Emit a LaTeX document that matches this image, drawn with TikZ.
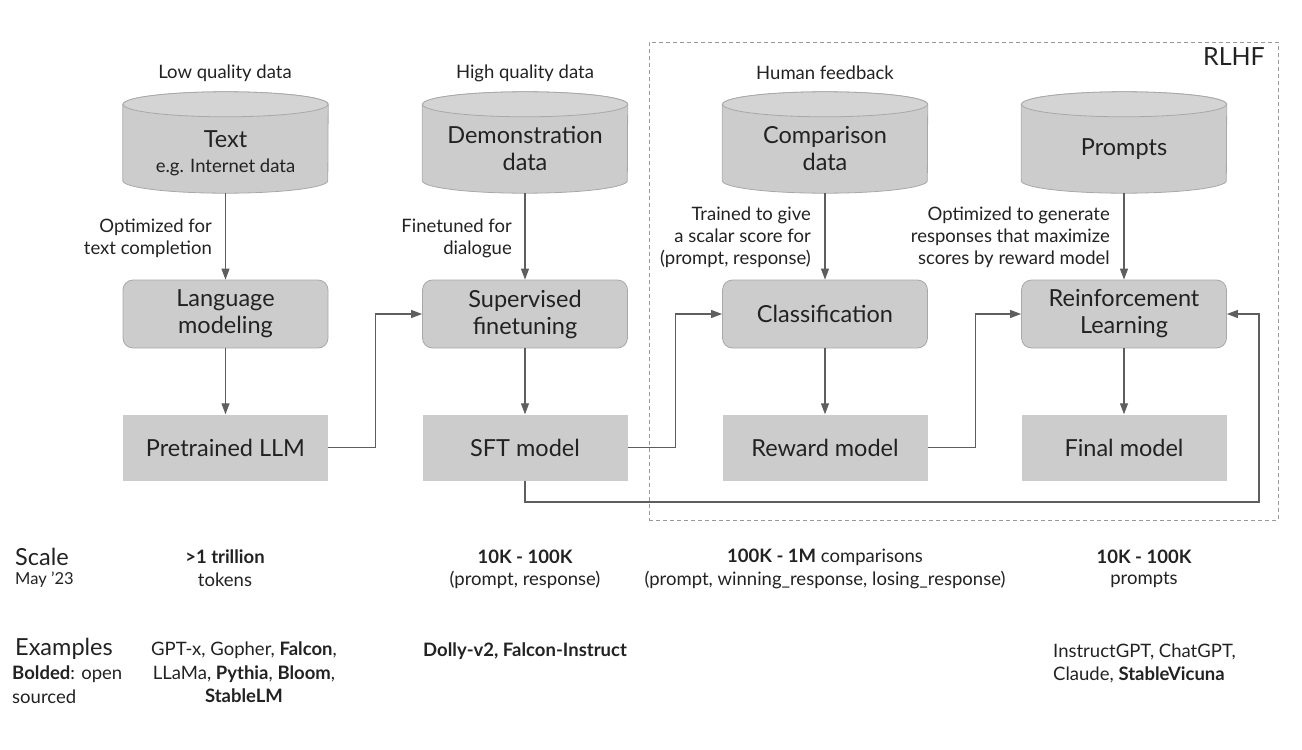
\documentclass[tikz,border=0pt]{standalone}
\usepackage{fontspec}
\setmainfont{Lato}
\usetikzlibrary{arrows.meta,backgrounds}
\definecolor{boxfill}{HTML}{CCCCCC}
\definecolor{boxtop}{HTML}{D4D4D4}
\definecolor{boxline}{HTML}{A8A8A8}
\definecolor{conncol}{HTML}{5E5E5E}
\definecolor{txt}{HTML}{222222}
\definecolor{dashcol}{HTML}{9A9A9A}
\tikzset{
  proc/.style={draw=boxline, fill=boxfill, rounded corners=10pt, minimum width=205pt,
    minimum height=68pt, align=center, font=\fontsize{23.5}{27}\selectfont, text=txt,
    line width=0.8pt, inner sep=0pt},
  model/.style={fill=boxfill, minimum width=205pt, minimum height=66pt,
    font=\fontsize{23.5}{27}\selectfont, text=txt, inner sep=0pt},
  db/.style={minimum width=205pt, minimum height=88.5pt, align=center, inner sep=0pt, text=txt,
    font=\fontsize{23.5}{27}\selectfont},
  lab/.style={font=\fontsize{18.5}{22}\selectfont, text=txt, align=right, inner sep=0pt},
  toplab/.style={font=\fontsize{18.5}{22}\selectfont, text=txt, inner sep=0pt},
  big/.style={font=\fontsize{23.5}{27}\selectfont, text=txt, inner sep=0pt},
  small/.style={font=\fontsize{18.5}{23.5}\selectfont, text=txt, inner sep=0pt},
  conn/.style={draw=conncol, line width=1.2pt, -{Triangle[length=11pt,width=8pt]}},
}
\begin{document}
\begin{tikzpicture}[x=1pt,y=1pt]
\useasboundingbox (0,0) rectangle (1302,-750);

% RLHF dashed frame
\node[draw=dashcol, dashed, dash pattern=on 4pt off 3pt, line width=1pt,
  minimum width=629pt, minimum height=478pt, inner sep=0pt] (rlhf) at (963.5,-281) {};
\node[font=\fontsize{25}{28}\selectfont, text=txt, anchor=east, inner sep=0pt] (rlhflab) at (1265,-57) {RLHF};

% top labels
\node[toplab] (t1) at (225,-73) {Low quality data};
\node[toplab] (t2) at (525,-73) {High quality data};
\node[toplab] (t3) at (825,-73) {Human feedback};

% cylinders (named nodes spanning top-ellipse centre to bottom)
\node[db, font=\fontsize{23.5}{25}\selectfont] (c1) at (225.5,-148.75) {\rule{0pt}{25pt}Text\\{\fontsize{18.5}{20}\selectfont e.g. Internet data}};
\node[db] (c2) at (525,-148.75) {Demonstration\\data};
\node[db] (c3) at (825,-148.75) {Comparison\\data};
\node[db] (c4) at (1124,-148.75) {Prompts};

\begin{pgfonlayer}{background}
\foreach \n in {c1,c2,c3,c4}{
  \path[draw=boxline, fill=boxfill, line width=0.8pt] (\n.north west) -- ([yshift=12.5pt]\n.south west)
    arc[start angle=180, end angle=360, x radius=102.5pt, y radius=12.5pt]
    -- (\n.north east) arc[start angle=0, end angle=180, x radius=102.5pt, y radius=12.5pt] -- cycle;
  \path[draw=boxline, fill=boxtop, line width=0.8pt] (\n.north) ellipse[x radius=102.5pt, y radius=12.5pt];
}
\end{pgfonlayer}

% process boxes
\node[proc] (p1) at (225.5,-314) {Language\\modeling};
\node[proc] (p2) at (525,-314) {Supervised\\finetuning};
\node[proc] (p3) at (825,-314) {Classification};
\node[proc] (p4) at (1124,-314) {Reinforcement\\Learning};

% model boxes
\node[model] (m1) at (225.5,-447.5) {Pretrained LLM};
\node[model] (m2) at (525,-447.5) {SFT model};
\node[model] (m3) at (825,-447.5) {Reward model};
\node[model] (m4) at (1124,-447.5) {Final model};

% arrow labels
\node[lab, anchor=east] (l1) at (212,-238) {Optimized for\\text completion};
\node[lab, anchor=east] (l2) at (512,-238) {Finetuned for\\dialogue};
\node[lab, anchor=east] (l3) at (811,-237) {Trained to give\\a scalar score for\\(prompt, response)};
\node[lab, anchor=east] (l4) at (1110,-237) {Optimized to generate\\responses that maximize\\scores by reward model};

% vertical connectors
\foreach \i in {1,2,3,4}{
  \draw[conn] (c\i.south) -- (p\i.north);
  \draw[conn] (p\i.south) -- (m\i.north);
}
% elbow connectors
\draw[conn] (m1.east) -- ++(47.5,0) |- (p2.west);
\draw[conn] (m2.east) -- ++(47.5,0) |- (p3.west);
\draw[conn] (m3.east) -- ++(47.5,0) |- (p4.west);
\coordinate (loopc) at (1259,-502);
\draw[conn] (m2.south) |- (loopc) |- (p4.east);

% bottom: scale
\node[big, anchor=west] (scale) at (15,-557) {Scale};
\node[small, anchor=west, font=\fontsize{16.5}{20}\selectfont] (may) at (15,-580) {May {\char"0027}23};
\node[small] (s1a) at (225,-557) {\bfseries >1 trillion};
\node[small] (s1b) at (225,-580) {tokens};
\node[small] (s2a) at (525,-557) {\bfseries 10K - 100K};
\node[small] (s2b) at (525,-580) {(prompt, response)};
\node[small] (s3a) at (825,-557) {\textbf{100K - 1M} comparisons};
\node[small] (s3b) at (825,-580) {(prompt, winning\_response, losing\_response)};
\node[small] (s4a) at (1144,-557) {\bfseries 10K - 100K};
\node[small] (s4b) at (1144,-580) {prompts};

% bottom: examples
\node[big, anchor=west] (ex) at (15,-649) {Examples};
\node[small, anchor=west, align=left] (bold) at (12,-684.5) {\textbf{Bolded}: open\\sourced};
\node[small, align=center] (e1) at (244,-672.5) {GPT-x, Gopher, \textbf{Falcon},\\LLaMa, \textbf{Pythia}, \textbf{Bloom},\\\textbf{StableLM}};
\node[small] (e2) at (525,-651) {\bfseries Dolly-v2, Falcon-Instruct};
\node[small, anchor=west, align=left] (e4) at (1053,-663.5) {InstructGPT, ChatGPT,\\Claude, \textbf{StableVicuna}};
\end{tikzpicture}
\end{document}
